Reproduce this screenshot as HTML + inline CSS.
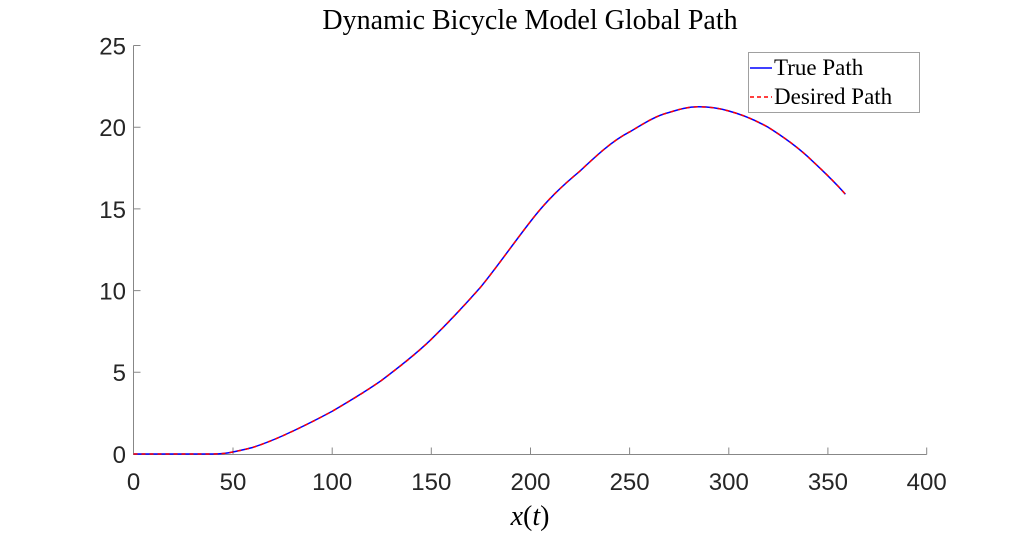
<!DOCTYPE html>
<html><head><meta charset="utf-8"><style>body{margin:0;background:#fff}</style></head><body>
<svg width="1024" height="535" xmlns="http://www.w3.org/2000/svg">
<rect width="1024" height="535" fill="#fff"/>
<text x="530" y="29" text-anchor="middle" font-family="Liberation Serif, serif" font-size="28" fill="#000">Dynamic Bicycle Model Global Path</text>
<g stroke="#262626" stroke-width="1" fill="none" opacity="0.55">
<path d="M133.5 45.5V454.5H926.7"/>
<path d="M233 454.5v-7M332.2 454.5v-7M431.3 454.5v-7M530.5 454.5v-7M629.6 454.5v-7M728.8 454.5v-7M827.9 454.5v-7M926.7 454.5v-7"/>
<path d="M133.5 45.5h7M133.5 127.2h7M133.5 208.9h7M133.5 290.6h7M133.5 372.3h7"/>
</g>
<g font-family="Liberation Sans, sans-serif" font-size="24" fill="#262626" text-anchor="middle">
<text x="133.5" y="490">0</text><text x="233" y="490">50</text><text x="332.2" y="490">100</text><text x="431.3" y="490">150</text><text x="530.5" y="490">200</text><text x="629.6" y="490">250</text><text x="728.8" y="490">300</text><text x="827.9" y="490">350</text><text x="926.7" y="490">400</text>
</g>
<g font-family="Liberation Sans, sans-serif" font-size="24" fill="#262626" text-anchor="end">
<text x="126" y="463">0</text><text x="126" y="381">5</text><text x="126" y="299.5">10</text><text x="126" y="218">15</text><text x="126" y="136">20</text><text x="126" y="54.5">25</text>
</g>
<text x="530" y="525" text-anchor="middle" font-family="Liberation Serif, serif" font-size="28" fill="#000"><tspan font-style="italic">x</tspan>(<tspan font-style="italic">t</tspan>)</text>
<path d="M133.5 454 L212.8 454 C220 454 226 453.5 232.7 452 C240 450.5 246 449.3 252.5 447.5 C262 444.5 272 440.5 282.2 436 C299 428.5 315 420.5 331.8 411.5 C348 402 365 392 381.4 380.5 C398 368 415 355 431 339.6 C448 323 464 306 480.5 287.3 C497 267 513 244 530.1 222 C546 201 562 186 579.7 171.3 C596 156 612 141 629.3 132.1 C643 124 655 116 668.9 112.5 C680 109 688 106.8 698.7 106.8 C709 106.8 718 108 728.4 110.9 C742 114.5 755 120 768.1 127.2 C782 136 795 145 807.7 156.6 C821 169 833 180 845.4 194.2" fill="none" stroke="#0000ff" stroke-width="1.5"/>
<path d="M133.5 454 L212.8 454 C220 454 226 453.5 232.7 452 C240 450.5 246 449.3 252.5 447.5 C262 444.5 272 440.5 282.2 436 C299 428.5 315 420.5 331.8 411.5 C348 402 365 392 381.4 380.5 C398 368 415 355 431 339.6 C448 323 464 306 480.5 287.3 C497 267 513 244 530.1 222 C546 201 562 186 579.7 171.3 C596 156 612 141 629.3 132.1 C643 124 655 116 668.9 112.5 C680 109 688 106.8 698.7 106.8 C709 106.8 718 108 728.4 110.9 C742 114.5 755 120 768.1 127.2 C782 136 795 145 807.7 156.6 C821 169 833 180 845.4 194.2" fill="none" stroke="#ff0000" stroke-width="1.5" stroke-dasharray="4 4"/>
<rect x="748.5" y="52.5" width="171" height="60" fill="#fff" stroke="#a0a0a0" stroke-width="1"/>
<line x1="750" y1="68" x2="772" y2="68" stroke="#0000ff" stroke-width="1.5"/>
<line x1="750" y1="97" x2="772" y2="97" stroke="#ff0000" stroke-width="1.5" stroke-dasharray="4 3"/>
<g font-family="Liberation Serif, serif" font-size="23" fill="#000">
<text x="774" y="75">True Path</text><text x="774" y="104">Desired Path</text>
</g>
</svg>
</body></html>
